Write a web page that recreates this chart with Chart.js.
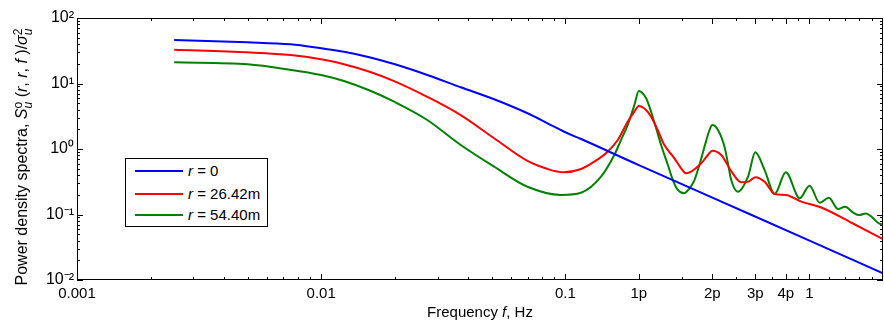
<!DOCTYPE html>
<html>
<head>
<meta charset="utf-8">
<script src="https://cdn.jsdelivr.net/npm/chart.js@4.4.1/dist/chart.umd.min.js"></script>
<style>
  html, body { margin: 0; padding: 0; background: #fff; }
  #wrap { position: relative; width: 884px; height: 327px; font-family: "Liberation Sans", Arial, sans-serif; color: #000; }
  #chart { position: absolute; left: 0; top: 0; }
  .ytitle { position: absolute; left: -128px; top: 145px; width: 300px; height: 24px; line-height: 24px;
            text-align: center; font-size: 16px; white-space: nowrap; transform: rotate(-90deg); }
  .xtitle { position: absolute; left: 330px; top: 302px; width: 300px; height: 20px; line-height: 20px;
            text-align: center; font-size: 15px; white-space: nowrap; }
  .ss { display: inline-block; vertical-align: middle; font-size: 12px; line-height: 10px; text-align: left; }
  .ss span { display: block; }
  .legend { position: absolute; left: 125px; top: 158px; width: 141px; height: 67px; border: 1px solid #000; background: #fff; }
  .legend .row { position: absolute; left: 0; height: 20px; line-height: 20px; font-size: 15px; white-space: nowrap; }
  .legend .sw { position: absolute; left: 9px; top: 9px; width: 48px; height: 2px; }
  .legend .lt { position: absolute; left: 62px; top: 0; }
</style>
</head>
<body>
<div id="wrap">
  <canvas id="chart" width="884" height="327"></canvas>
  <div class="ytitle">Power density spectra, <i>S</i><span class="ss"><span>o</span><span><i>u</i></span></span>
    (<i>r</i>, <i>r</i>, <i>f</i> )/<i>σ</i><span class="ss"><span>2</span><span><i>u</i></span></span></div>
  <div class="xtitle">Frequency <i>f</i>, Hz</div>
  <div class="legend" id="legend"></div>
</div>
<script>
// tick positions and labels
const xTickValues = [0.001, 0.01, 0.1, 0.2, 0.4, 0.6, 0.8, 1];
const xTickLabels = ["0.001", "0.01", "0.1", "1p", "2p", "3p", "4p", "1"];
const xMinorTicks = [0.002, 0.003, 0.004, 0.005, 0.006, 0.007, 0.008, 0.009,
                     0.02, 0.03, 0.04, 0.05, 0.06, 0.07, 0.08, 0.09,
                     0.3, 0.5, 0.7, 0.9, 1.2, 1.4, 1.6, 1.8];
const yTickValues = [0.01, 0.1, 1, 10, 100];
const yTickLabels = ["10\u207B\u00B2", "10\u207B\u00B9", "10\u2070", "10\u00B9", "10\u00B2"];
const yMinorTicks = [];
[0.01, 0.1, 1, 10].forEach(function (d) {
  for (let k = 2; k <= 9; k++) yMinorTicks.push(d * k);
});

// r = 0
const freqBlue = [0.0025, 0.005, 0.0075, 0.01, 0.0124, 0.0159, 0.0199, 0.0272, 0.0373, 0.0511,
                  0.07, 0.0846, 0.1, 0.116, 0.2, 0.4, 1.0, 2.0];
const valBlue = [46.1, 42.6, 39.6, 34.4, 30.5, 25.0, 19.8, 13.5, 8.75, 5.74,
                 3.51, 2.47, 1.80, 1.42, 0.568, 0.181, 0.040, 0.0126];

// r = 26.42m
const freqRed = [0.0025, 0.005, 0.0075, 0.01, 0.0124, 0.0159, 0.0199, 0.0272, 0.0373,
                 0.0511, 0.07, 0.0846, 0.0986, 0.116, 0.1314, 0.149, 0.164, 0.18, 0.1918,
                 0.2, 0.2142, 0.2245, 0.239, 0.2545, 0.2797, 0.298, 0.3123, 0.36, 0.3836,
                 0.4, 0.435, 0.478, 0.525, 0.56, 0.6, 0.655, 0.72, 0.8, 0.926,
                 1.118, 1.5, 2.0];
const valRed = [32.8, 29.9, 27.2, 23.4, 19.7, 15.0, 10.9, 6.27, 3.30,
                1.46, 0.656, 0.495, 0.441, 0.495, 0.64, 0.91, 1.37, 2.61, 3.71,
                4.53, 3.94, 3.11, 1.95, 1.15, 0.721, 0.507, 0.426, 0.604, 0.809,
                0.942, 0.809, 0.46, 0.31, 0.315, 0.37, 0.315, 0.206, 0.199, 0.157,
                0.128, 0.0735, 0.042];

// r = 54.40m
const freqGreen = [0.0025, 0.005, 0.00725, 0.01, 0.0124, 0.0159, 0.0199, 0.0272, 0.0373,
                   0.0511, 0.07, 0.096, 0.116, 0.14, 0.1587, 0.169, 0.18, 0.1918, 0.2,
                   0.2142, 0.2245, 0.2355, 0.2467, 0.263, 0.2756, 0.289, 0.3057, 0.3224, 0.338,
                   0.354, 0.3715, 0.3895, 0.4, 0.4217, 0.4487, 0.4634, 0.478, 0.509, 0.56,
                   0.6, 0.655, 0.72, 0.8, 0.912, 1.0, 1.101, 1.2, 1.31, 1.4,
                   1.51, 1.6, 1.7, 1.8, 1.9, 2.0];
const valGreen = [21.1, 19.6, 16.5, 13.5, 10.9, 7.75, 5.27, 2.77, 1.15,
                  0.537, 0.265, 0.199, 0.215, 0.378, 0.809, 1.37, 2.32, 4.70, 7.67,
                  5.94, 3.71, 2.07, 1.15, 0.570, 0.336, 0.237, 0.211, 0.251, 0.336,
                  0.570, 1.08, 1.95, 2.32, 1.95, 1.08, 0.604, 0.336, 0.223, 0.378,
                  0.891, 0.477, 0.206, 0.441, 0.177, 0.275, 0.151, 0.180, 0.121, 0.131,
                  0.107, 0.098, 0.104, 0.0916, 0.0755, 0.0692];

const seriesR = ["0", "26.42m", "54.40m"];
const seriesColors = ["#0000ff", "#ff0000", "#008000"];

const FONT = "'Liberation Sans', Arial, sans-serif";

function toPoints(fs, vs) {
  return fs.map(function (f, i) { return { x: f, y: vs[i] }; });
}

// box with inward ticks on all four sides
const frameTicks = {
  id: "frameTicks",
  afterDatasetsDraw(chart) {
    const ctx = chart.ctx;
    const a = chart.chartArea;
    const x = chart.scales.x, y = chart.scales.y;
    ctx.save();
    ctx.strokeStyle = "#000";
    ctx.lineWidth = 1;
    ctx.beginPath();
    function xt(v, len) {
      const px = Math.round(x.getPixelForValue(v)) + 0.5;
      ctx.moveTo(px, a.bottom); ctx.lineTo(px, a.bottom - len);
      ctx.moveTo(px, a.top); ctx.lineTo(px, a.top + len);
    }
    function yt(v, len) {
      const py = Math.round(y.getPixelForValue(v)) + 0.5;
      ctx.moveTo(a.left, py); ctx.lineTo(a.left + len, py);
      ctx.moveTo(a.right, py); ctx.lineTo(a.right - len, py);
    }
    xTickValues.forEach(function (v) { xt(v, 6); });
    xMinorTicks.forEach(function (v) { xt(v, 3); });
    yTickValues.forEach(function (v) { yt(v, 6); });
    yMinorTicks.forEach(function (v) { yt(v, 3); });
    ctx.stroke();
    ctx.strokeRect(a.left + 0.5, a.top + 0.5, a.width - 1, a.height - 1);
    ctx.restore();
  }
};

const datasets = [
  toPoints(freqBlue, valBlue),
  toPoints(freqRed, valRed),
  toPoints(freqGreen, valGreen)
].map(function (pts, i) {
  return {
    label: "r = " + seriesR[i],
    data: pts,
    borderColor: seriesColors[i],
    backgroundColor: seriesColors[i],
    borderWidth: 2,
    pointRadius: 0,
    fill: false,
    cubicInterpolationMode: "monotone"
  };
});

new Chart(document.getElementById("chart"), {
  type: "line",
  data: { datasets: datasets },
  plugins: [frameTicks],
  options: {
    responsive: false,
    animation: false,
    devicePixelRatio: 1,
    layout: { padding: { top: 18, right: 1, left: 0, bottom: 0 } },
    plugins: {
      legend: { display: false },
      tooltip: { enabled: false }
    },
    scales: {
      x: {
        type: "logarithmic",
        min: 0.001,
        max: 2,
        grid: { display: false, drawTicks: false },
        border: { display: false },
        afterBuildTicks: function (s) { s.ticks = xTickValues.map(function (v) { return { value: v }; }); },
        afterFit: function (s) { s.height = 47; },
        ticks: {
          autoSkip: false,
          maxRotation: 0,
          padding: 5,
          color: "#000",
          font: { family: FONT, size: 15 },
          callback: function (value, index) { return xTickLabels[index]; }
        }
      },
      y: {
        type: "logarithmic",
        min: 0.01,
        max: 100,
        grid: { display: false, drawTicks: false },
        border: { display: false },
        afterBuildTicks: function (s) { s.ticks = yTickValues.map(function (v) { return { value: v }; }); },
        afterFit: function (s) { s.width = 77; },
        ticks: {
          autoSkip: false,
          padding: 3,
          color: "#000",
          font: { family: FONT, size: 16 },
          callback: function (value, index) { return yTickLabels[index]; }
        }
      }
    }
  }
});

// legend inside the plot
const legend = document.getElementById("legend");
const rowTops = [2, 25, 46];
seriesR.forEach(function (r, i) {
  const row = document.createElement("div");
  row.className = "row";
  row.style.top = rowTops[i] + "px";
  row.innerHTML = '<span class="sw" style="background:' + seriesColors[i] + '"></span>' +
                  '<span class="lt"><i>r</i> = ' + r + '</span>';
  legend.appendChild(row);
});
</script>
</body>
</html>
